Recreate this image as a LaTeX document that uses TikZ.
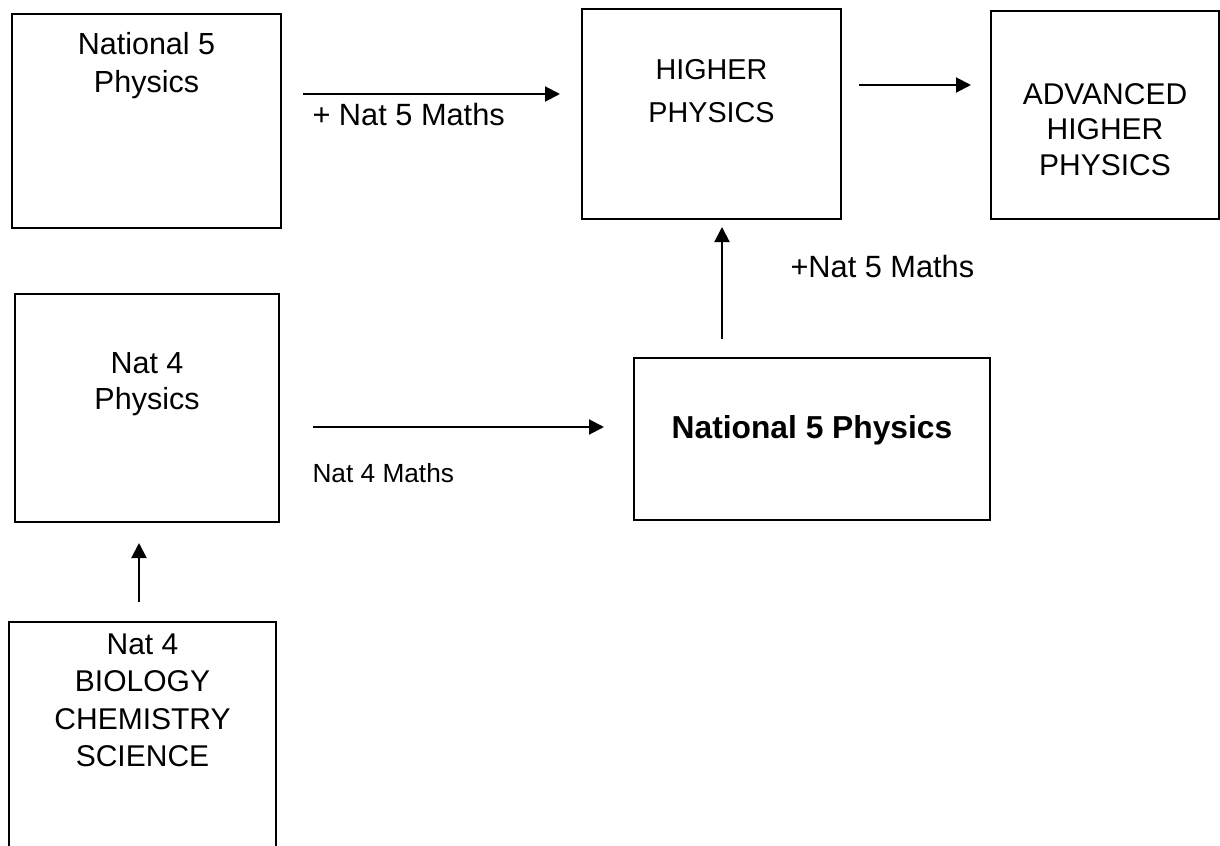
\documentclass[tikz,border=0pt]{standalone}
\usepackage{fontspec}
\setmainfont{Liberation Sans}
\usetikzlibrary{arrows.meta}

\begin{document}
\begin{tikzpicture}[x=0.4pt,y=-0.4pt]
\tikzstyle{box}=[draw,line width=0.8pt,inner sep=0pt]
\tikzstyle{txt}=[align=center,inner sep=0pt,anchor=north,font=\fontsize{12}{15}\selectfont]
\tikzstyle{lbl}=[inner sep=0pt,anchor=north west,font=\fontsize{12.3}{15}\selectfont]
\tikzstyle{arr}=[line width=0.8pt,-{Triangle[length=6pt,width=6pt]}]
\useasboundingbox (0,0) rectangle (1220,846);

\node[box,minimum width=107.6pt,minimum height=85.6pt] (n5top) at (146.5,121) {};
\node[box,minimum width=103.6pt,minimum height=84pt] (higher) at (711.5,114) {};
\node[box,minimum width=91.2pt,minimum height=83.2pt] (adv) at (1105,115) {};
\node[box,minimum width=105.6pt,minimum height=91.2pt] (n4) at (147,408) {};
\node[box,minimum width=142.4pt,minimum height=64.8pt] (n5) at (812,439) {};
\node[box,minimum width=106.8pt,minimum height=103.2pt] (bio) at (142.5,751) {};

\node[txt,font=\fontsize{12.2}{15.2}\selectfont] (n5top-t) at (146.5,32) {National 5\\Physics};
\node[txt,font=\fontsize{11.5}{17.2}\selectfont] (higher-t) at (711.5,59) {HIGHER\\PHYSICS};
\node[txt,font=\fontsize{12}{14.2}\selectfont] (adv-t) at (1105,83) {ADVANCED\\HIGHER\\PHYSICS};
\node[txt,font=\fontsize{12.2}{14.4}\selectfont] (n4-t) at (147,352) {Nat 4\\Physics};
\node[txt,font=\fontsize{12.7}{15}\selectfont\bfseries] (n5-t) at (812,415) {National 5 Physics};
\node[txt] (bio-t) at (142.5,633) {Nat 4\\BIOLOGY\\CHEMISTRY\\SCIENCE};

\draw[arr,shorten <=8.4pt,shorten >=8.4pt] (n5top.east|-0,94) -- (higher.west|-0,94);
\draw[arr,shorten <=6.8pt,shorten >=7.6pt] (higher.east|-0,85) -- (adv.west|-0,85);
\draw[arr,shorten <=7.2pt,shorten >=2.8pt] (722,0|-n5.north) -- (722,0|-higher.south);
\draw[arr,shorten <=13.2pt,shorten >=11.6pt] (n4.east|-0,427) -- (n5.west|-0,427);
\draw[arr,shorten <=7.6pt,shorten >=8pt] (139,0|-bio.north) -- (139,0|-n4.south);

\node[lbl] (m5a) at (312,103) {+ Nat 5 Maths};
\node[lbl] (m5b) at (790,255) {+Nat 5 Maths};
\node[lbl,font=\fontsize{10.5}{13}\selectfont] (m4) at (312,463) {Nat 4 Maths};
\end{tikzpicture}
\end{document}
